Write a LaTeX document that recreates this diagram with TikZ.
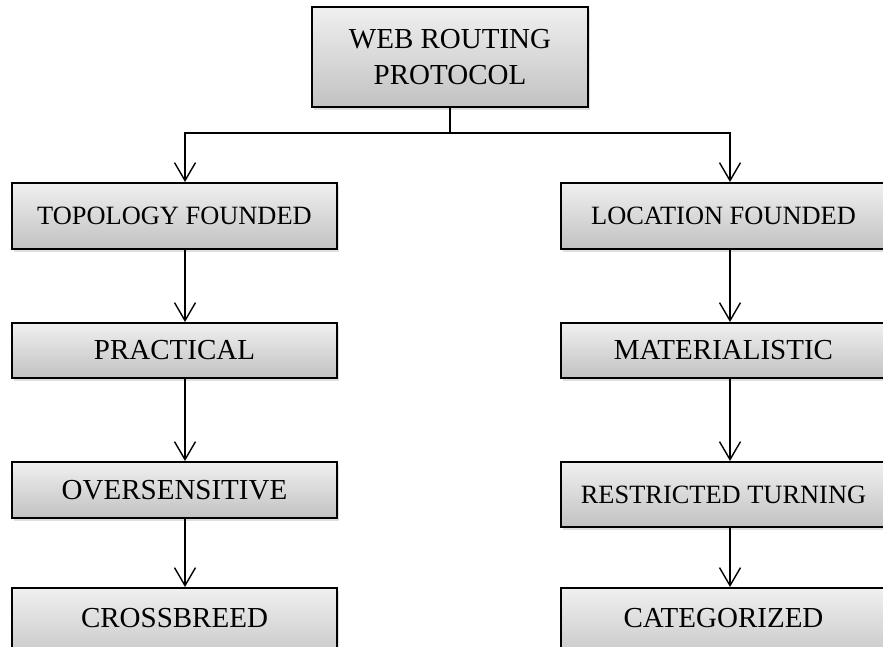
\documentclass[tikz,border=0pt]{standalone}
\usepackage{fontspec}
\setmainfont{Liberation Serif}
\usetikzlibrary{arrows.meta,shadows}

\begin{document}
\begin{tikzpicture}[x=0.5pt,y=-0.5pt,
stage/.style={draw, line width=1pt, top color=black!6, bottom color=black!24, align=center, inner sep=0pt, minimum width=162.5pt, font=\fontsize{14.5}{18}\selectfont, drop shadow={shadow xshift=0.8pt, shadow yshift=-1.6pt, opacity=0.25}},
tight/.style={font=\fontsize{13.2}{16}\selectfont},
lastrow/.style={minimum height=40pt, text depth=10pt},
arr/.style={line width=0.7pt, -{Straight Barb[length=9pt,width=10.5pt,line width=0.7pt]}}]
\clip (0,0) rectangle (883,647);
\node[stage, minimum width=138pt, minimum height=50pt] (root) at (450,57) {WEB ROUTING\\PROTOCOL};
% left branch
\node[stage, tight, minimum height=33pt] (topo) at (174.5,216) {TOPOLOGY FOUNDED};
\node[stage, minimum height=27.5pt] (prac) at (174.5,350.5) {PRACTICAL};
\node[stage, minimum height=28pt] (over) at (174.5,490) {OVERSENSITIVE};
\node[stage, lastrow] (cross) at (174.5,628) {CROSSBREED};
% right branch
\node[stage, tight, minimum height=33pt] (loc) at (723.5,216) {LOCATION FOUNDED};
\node[stage, minimum height=27.5pt] (mat) at (723.5,350.5) {MATERIALISTIC};
\node[stage, tight, minimum height=32.5pt] (restr) at (723.5,494.5) {RESTRICTED TURNING};
\node[stage, lastrow] (cat) at (723.5,628) {CATEGORIZED};
\coordinate (fork) at (450,133);
\coordinate (colL) at (185,0);
\coordinate (colR) at (730,0);
\draw[line width=0.7pt] (root.south) -- (fork);
\draw[arr] (fork) -| (topo.north -| colL);
\draw[arr] (fork) -| (loc.north -| colR);
\draw[arr] (topo.south -| colL) -- (prac.north -| colL);
\draw[arr] (prac.south -| colL) -- (over.north -| colL);
\draw[arr] (over.south -| colL) -- (cross.north -| colL);
\draw[arr] (loc.south -| colR) -- (mat.north -| colR);
\draw[arr] (mat.south -| colR) -- (restr.north -| colR);
\draw[arr] (restr.south -| colR) -- (cat.north -| colR);
\end{tikzpicture}
\end{document}
